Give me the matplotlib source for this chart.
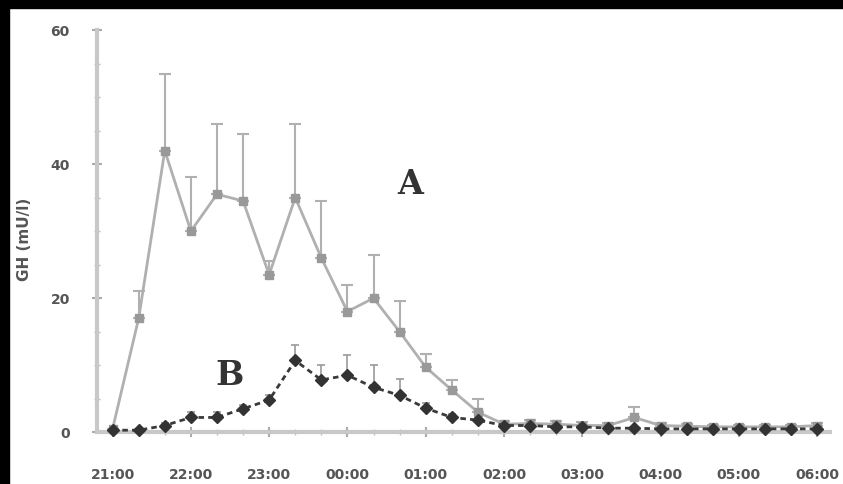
import matplotlib
matplotlib.use('Agg')
import matplotlib.pyplot as plt
import numpy as np

# 20-min samples from 21:00 to 06:00
hour_labels = ['21:00', '22:00', '23:00', '00:00', '01:00', '02:00',
               '03:00', '04:00', '05:00', '06:00']
a_mean = [0.5, 17, 42, 30, 35.5, 34.5, 23.5, 35, 26, 18, 20, 15, 9.7, 6.3,
          3, 1.2, 1.3, 1.2, 1.0, 1.0, 2.2, 1.0, 0.9, 0.8, 0.8, 0.8, 0.8, 1.0]
a_err = [0, 4, 11.5, 8, 10.5, 10, 2, 11, 8.5, 4, 6.5, 4.5, 2, 1.5,
         2, 0.5, 0.5, 0.5, 0.5, 0.4, 1.5, 0.4, 0.3, 0.3, 0.3, 0.3, 0.3, 0.3]
b_mean = [0.3, 0.3, 1.0, 2.2, 2.2, 3.5, 4.8, 10.7, 7.8, 8.5, 6.7, 5.5, 3.6, 2.2,
          1.8, 1.0, 1.0, 0.8, 0.8, 0.6, 0.6, 0.5, 0.5, 0.5, 0.5, 0.5, 0.5, 0.5]
b_err = [0, 0, 0.3, 0.8, 0.8, 0.5, 0.8, 2.3, 2.2, 3, 3.3, 2.5, 0.8, 0.5,
         0.5, 0.3, 0.3, 0.3, 0.3, 0.2, 0.2, 0.2, 0.2, 0.2, 0.2, 0.2, 0.2, 0.2]

t = np.arange(len(a_mean)) / 3.0

fig = plt.figure(figsize=(8.43, 4.84), dpi=100)
ax = fig.add_axes([0.115, 0.107, 0.87, 0.831])

ax.errorbar(t, a_mean, yerr=[np.zeros(len(a_err)), a_err], color='#b0b0b0',
            marker='s', markersize=6, markerfacecolor='#999999', markeredgecolor='#999999',
            linewidth=2, elinewidth=1.5, capsize=4, capthick=1.5, clip_on=False, zorder=2)
ax.errorbar(t, b_mean, yerr=[np.zeros(len(b_err)), b_err], color='#3a3a3a',
            marker='D', markersize=6, markerfacecolor='#333333', markeredgecolor='#333333',
            linewidth=2, linestyle=(0, (2, 1.5)), elinewidth=1.2, ecolor='#999999',
            capsize=3, capthick=1.2, clip_on=False, zorder=3)

ax.text(3.8, 37, 'A', fontsize=24, fontweight='bold', family='DejaVu Serif', color='#333333',
        ha='center', va='center')
ax.text(1.5, 8.5, 'B', fontsize=24, fontweight='bold', family='DejaVu Serif', color='#333333',
        ha='center', va='center')

ax.set_xlim(-0.2, 9.17)
ax.set_ylim(0, 60)
ax.set_xticks(np.arange(len(hour_labels)))
ax.set_xticklabels(hour_labels)
ax.set_xticks(t, minor=True)
ax.set_yticks([0, 20, 40, 60])
ax.set_yticks(np.arange(0, 61, 5), minor=True)

for s in ['top', 'right']:
    ax.spines[s].set_visible(False)
for s in ['left', 'bottom']:
    ax.spines[s].set_color('#c8c8c8')
    ax.spines[s].set_linewidth(3)

ax.tick_params(axis='both', which='major', direction='inout', length=7, width=1.5,
               color='#aaaaaa', labelsize=10, labelcolor='#555555')
ax.tick_params(axis='both', which='minor', direction='inout', length=4, width=1,
               color='#bbbbbb')
for lab in ax.get_xticklabels() + ax.get_yticklabels():
    lab.set_fontweight('bold')
ax.tick_params(axis='y', pad=16)
ax.tick_params(axis='x', pad=22)

ax.set_ylabel('GH (mU/l)', fontsize=11, fontweight='bold', color='#555555', labelpad=2)
ax.yaxis.set_label_coords(-0.088, 0.48)

# dark scan border along left and top
fig.patches.append(plt.Rectangle((0, 0), 0.011, 1, transform=fig.transFigure,
                                 color='black', zorder=10))
fig.patches.append(plt.Rectangle((0, 0.984), 1, 0.016, transform=fig.transFigure,
                                 color='black', zorder=10))

fig.savefig('out.png', dpi=100, facecolor='white')
